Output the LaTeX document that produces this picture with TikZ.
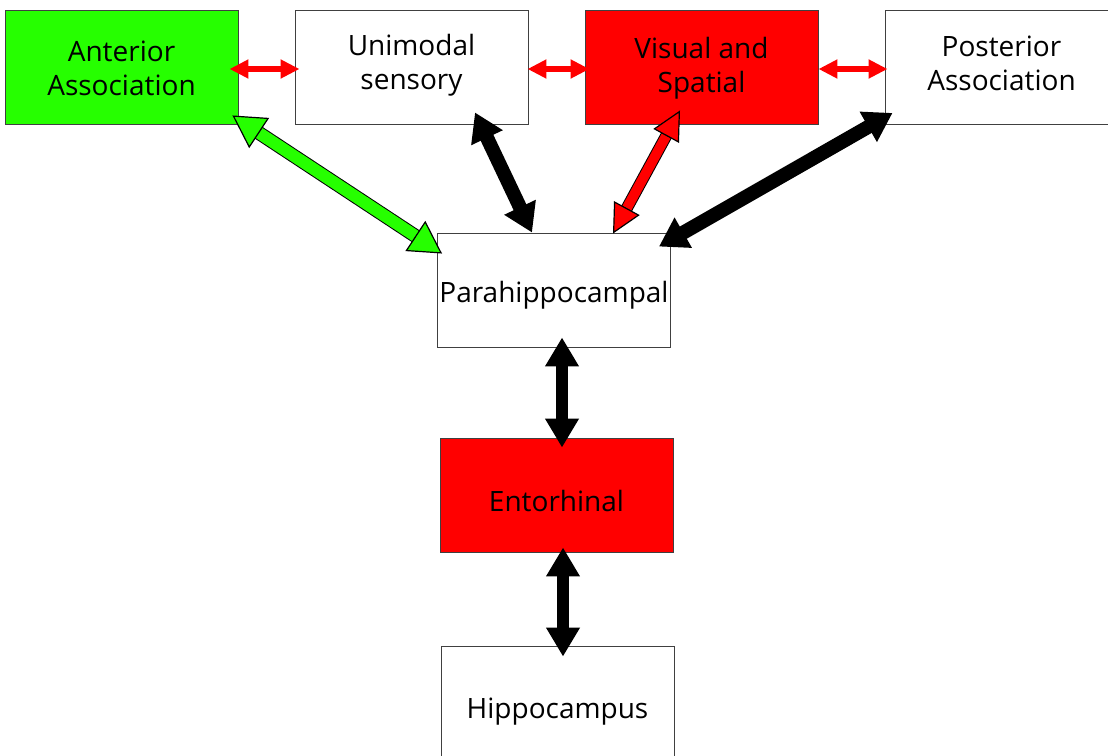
\documentclass[tikz,border=0pt]{standalone}
\usepackage{fontspec}
\setmainfont{Open Sans}
\usetikzlibrary{arrows.meta,calc}
\definecolor{areagreen}{RGB}{38,255,0}
\definecolor{areared}{RGB}{255,0,0}

\tikzset{
  area/.style={draw=black!75, line width=0.9pt, minimum width=233pt, minimum height=114pt,
    inner sep=0pt},
  areatext/.style={inner sep=0pt, align=center, font=\fontsize{28}{34}\selectfont},
  fatlink/.style={line width=12pt,
    {Triangle[length=29pt,width=32pt]}-{Triangle[length=29pt,width=32pt]}},
  diaglink/.style={line width=14pt,
    {Triangle[length=28pt,width=33pt]}-{Triangle[length=28pt,width=33pt]}},
  sidelink/.style={areared, line width=6pt,
    {Triangle[length=19pt,width=18pt]}-{Triangle[length=19pt,width=18pt]}},
}

% double-headed arrow with a thin black outline
% #1 from, #2 to, #3 fill colour, #4 shaft width, #5 head length, #6 head width
\newcommand\outlinedlink[6]{%
  \draw[line width=#4+2pt, black, shorten <=#5-6pt, shorten >=#5-6pt] (#1) -- (#2);
  \draw[line width=#4, #3,
    {Triangle[length=#5,width=#6,color=black,fill=#3,line width=1.2pt]}-%
    {Triangle[length=#5,width=#6,color=black,fill=#3,line width=1.2pt]}] (#1) -- (#2);
}

\begin{document}
\begin{tikzpicture}[x=1pt,y=-1pt]
  \useasboundingbox (0,0) rectangle (1108,755);

  % cortical areas
  \node[area, fill=areagreen, label={[areatext, yshift=-1pt]center:Anterior\\Association}]
    (ant) at (121.5,67) {};
  \node[area, fill=white, label={[areatext, yshift=1.5pt]center:Unimodal\\sensory}]
    (uni) at (411.5,67) {};
  \node[area, fill=areared, label={[areatext, yshift=-1.5pt]center:Visual and\\Spatial}]
    (vis) at (701.5,67) {};
  \node[area, fill=white, label={[areatext, yshift=4.5pt]center:Posterior\\Association}]
    (post) at (1001.5,67.5) {};

  % medial temporal lobe chain
  \node[area, fill=white, label={[areatext, yshift=-5pt]center:Parahippocampal}]
    (para) at (554,290) {};
  \node[area, fill=areared, label={[areatext, yshift=-5.5pt]center:Entorhinal}]
    (ento) at (556.5,495) {};
  \node[area, fill=white, label={[areatext, yshift=-8.5pt]center:Hippocampus}]
    (hip) at (557.5,703) {};

  % endpoints of the connectors
  \coordinate (antPara)  at ($(ant.south east)+(-6,-9)$);
  \coordinate (paraAnt)  at ($(para.north west)+(5,21)$);
  \coordinate (uniPara)  at ($(uni.south)+(63.5,-12)$);
  \coordinate (paraUni)  at ($(para.north)+(-22,0)$);
  \coordinate (visPara)  at ($(vis.south)+(-21.5,-14)$);
  \coordinate (paraVis)  at ($(para.north)+(59,1)$);
  \coordinate (postPara) at ($(post.south west)+(8,-12)$);
  \coordinate (paraPost) at ($(para.north east)+(-12,14)$);
  \coordinate (paraEnto) at ($(para.south)+(8,-10)$);
  \coordinate (entoPara) at ($(ento.north)+(5.5,10)$);
  \coordinate (entoHip)  at ($(ento.south)+(6.5,-5)$);
  \coordinate (hipEnto)  at ($(hip.north)+(5.5,11)$);

  % links between neighbouring areas
  \draw[sidelink] ($(ant.east)+(-9,2)$) -- ($(uni.west)+(5,2)$);
  \draw[sidelink] ($(uni.east)+(-1,2)$) -- ($(vis.west)+(5,2)$);
  \draw[sidelink] ($(vis.east)+(0,2)$)  -- ($(post.west)+(3,1.5)$);

  % links to the parahippocampal cortex
  \outlinedlink{antPara}{paraAnt}{areagreen}{12pt}{32pt}{36pt}
  \draw[diaglink] (uniPara) -- (paraUni);
  \outlinedlink{visPara}{paraVis}{areared}{10pt}{29pt}{29pt}
  \draw[diaglink] (postPara) -- (paraPost);

  % chain down to the hippocampus
  \draw[fatlink] (paraEnto) -- (entoPara);
  \draw[fatlink] (entoHip) -- (hipEnto);
\end{tikzpicture}
\end{document}
